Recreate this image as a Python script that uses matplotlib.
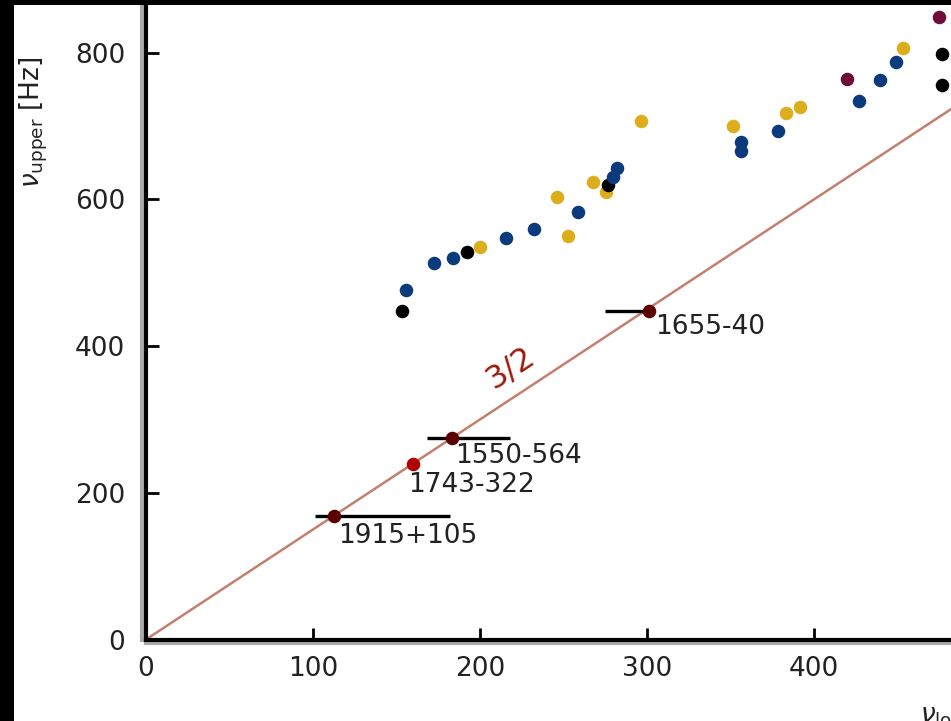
import numpy as np
import matplotlib.pyplot as plt
import matplotlib.patheffects as pe
from matplotlib.patches import Rectangle

# --------------------------------------
# DATA
# --------------------------------------
# neutron-star twin QPOs, grouped by marker colour
black_lower = [153.3, 192.5, 276.4, 476.6, 476.6]
black_upper = [447.9, 528.7, 619.6, 756.0, 798.3]

blue_lower = [155.8, 172.4, 183.7, 215.3, 232.3, 258.5, 281.9, 279.6,
              356.3, 356.3, 378.4, 426.9, 439.5, 449.1]
blue_upper = [476.5, 512.9, 520.5, 547.8, 560.1, 582.4, 642.4, 631.0,
              678.3, 666.0, 693.3, 734.6, 762.8, 787.3]

yellow_lower = [200.1, 245.9, 252.4, 267.7, 275.3, 296.7, 351.5, 383.2,
                391.6, 453.3]
yellow_upper = [534.7, 602.9, 550.5, 624.1, 610.5, 707.3, 700.1, 717.8,
                726.0, 806.4]

purple_lower = [419.8, 474.9]
purple_upper = [763.9, 848.7]

# black-hole sources on the 3/2 line
src_names = ["1915+105", "1743-322", "1550-564", "1655-40"]
src_lower = [112.6, 160.1, 183.1, 301.2]
src_upper = [168.4, 239.3, 274.3, 447.9]
src_err_lo = [11.4, 0.0, 15.0, 26.3]
src_err_hi = [69.4, 0.0, 35.0, 0.0]
src_colors = ["#5a0000", "#b00000", "#5a0000", "#5a0000"]

ratio = 3 / 2
ratio_label = "3/2"

xticks = [0, 100, 200, 300, 400]
yticks = [0, 200, 400, 600, 800]

# --------------------------------------
# FIGURE
# --------------------------------------
W, H = 951, 721
fig = plt.figure(figsize=(W / 100, H / 100), dpi=100, facecolor="white")

x0_px, y0_px = 146, 639.5
ax = fig.add_axes([x0_px / W, (H - y0_px) / H, (W - x0_px) / W, (y0_px - 5) / H])
ax.set_xlim(0, (W - x0_px) / 1.67)
ax.set_ylim(0, (y0_px - 5) / 0.7335)

# 3/2 line
line_x = np.array([0, 500])
ax.plot(line_x, ratio * line_x, color="#c4806e", lw=1.8, zorder=2)

ms = 95
ax.scatter(yellow_lower, yellow_upper, s=ms, color="#dcae1d", zorder=3, lw=0)
ax.scatter(black_lower, black_upper, s=ms, color="black", zorder=4, lw=0)
ax.scatter(blue_lower, blue_upper, s=ms, color="#0b3b7d", zorder=5, lw=0)
ax.scatter(purple_lower, purple_upper, s=ms, color="#6e0c3c", zorder=5, lw=0)

# BH sources with horizontal error bars
label_offsets = [(3, -14.5), (-3.6, -15), (2.2, -13), (4.3, -11.5)]
for name, xl, yu, elo, ehi, c, off in zip(src_names, src_lower, src_upper,
                                          src_err_lo, src_err_hi, src_colors,
                                          label_offsets):
    if elo + ehi > 0:
        ax.errorbar([xl], [yu], xerr=[[elo], [ehi]], fmt="none",
                    ecolor="black", elinewidth=2.4, capsize=0, zorder=4)
    ax.scatter([xl], [yu], s=ms, color=c, zorder=6, lw=0)
    ax.annotate(name, (xl, yu), xytext=off, textcoords="offset points",
                ha="left", va="center", fontsize=19, color="#222222")

# rotated ratio label above the line
fig.canvas.draw()
p1 = ax.transData.transform((0, 0))
p2 = ax.transData.transform((100, 100 * ratio))
angle = np.degrees(np.arctan2(p2[1] - p1[1], p2[0] - p1[0]))
ax.text(218, 370, ratio_label, rotation=angle, rotation_mode="anchor",
        ha="center", va="center", fontsize=23, color="#9b1b10", zorder=6)

# axes styling
for side in ["top", "right"]:
    ax.spines[side].set_visible(False)
ax.spines["left"].set_linewidth(3)
ax.spines["bottom"].set_linewidth(3)
ax.spines["left"].set_path_effects(
    [pe.Stroke(offset=(-2.6, 0), linewidth=3, foreground="#aaaaaa"), pe.Normal()])
ax.spines["bottom"].set_path_effects(
    [pe.Stroke(offset=(0, -2.2), linewidth=3, foreground="#aaaaaa"), pe.Normal()])

ax.set_xticks(xticks)
ax.set_yticks(yticks)
ax.tick_params(axis="both", direction="in", length=9, width=2,
               labelsize=19, labelcolor="#222222")
ax.tick_params(axis="x", pad=12)
ax.tick_params(axis="y", pad=15)

fig.text(34 / W, 1 - 122 / H, r"$\nu_{\rm upper}$ [Hz]", rotation=90,
         ha="center", va="center", fontsize=19, color="#222222")
# x label sits at the bottom-right corner and runs off the crop, as in the reference
fig.text(920 / W, 1 - 700 / H, r"$\nu_{\rm lower}$ [Hz]", ha="left", va="top",
         fontsize=19, color="#222222")

# black frame strips (left and top) as in the reference crop
fig.patches.append(Rectangle((0, 0), 14 / W, 1, transform=fig.transFigure,
                             facecolor="black", edgecolor="none", zorder=10))
fig.patches.append(Rectangle((0, 1 - 5 / H), 1, 5 / H, transform=fig.transFigure,
                             facecolor="black", edgecolor="none", zorder=10))

fig.savefig("out.png", dpi=100, facecolor="white")
